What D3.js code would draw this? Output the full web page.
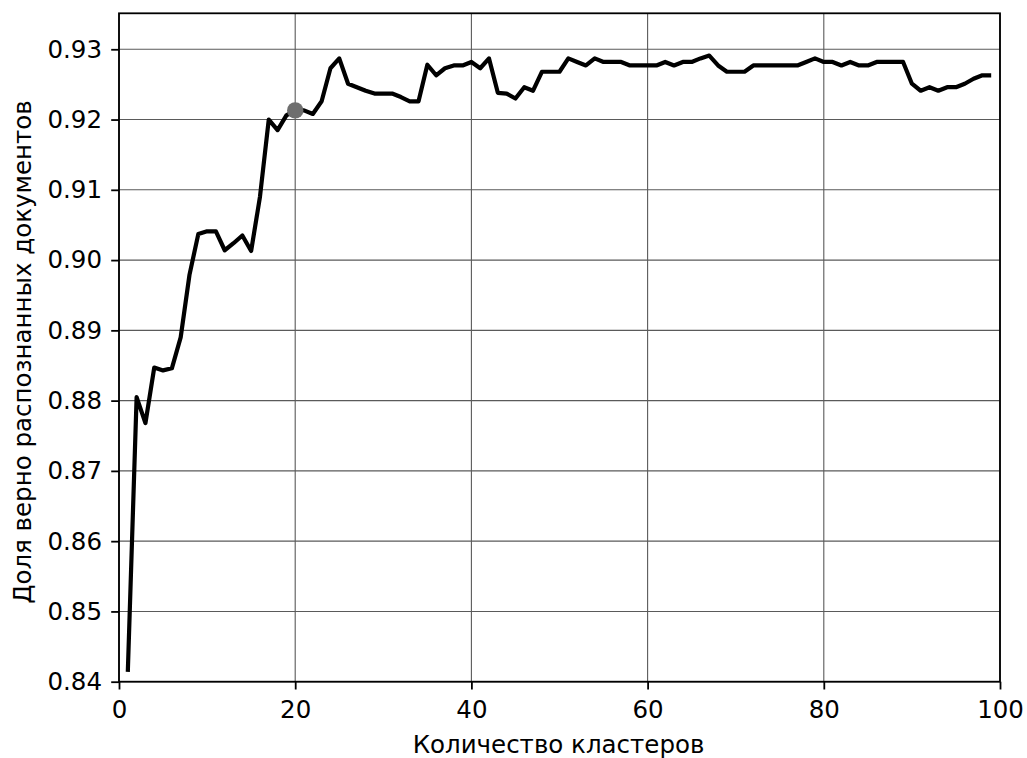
<!DOCTYPE html>
<html>
<head>
<meta charset="utf-8">
<script src="https://cdn.jsdelivr.net/npm/d3@7"></script>
<style>
  html, body { margin: 0; padding: 0; background: #fff; }
  svg text { font-family: "DejaVu Sans", sans-serif; fill: #000; }
</style>
</head>
<body>
<svg id="chart" width="1027" height="758"></svg>
<script>
const clusters = d3.range(1, 100);
const accuracy = [
  0.8414, 0.8805, 0.8768, 0.8847, 0.8843, 0.8846, 0.8890, 0.8979, 0.9037, 0.9041,
  0.9041, 0.9014, 0.9024, 0.9035, 0.9013, 0.9090, 0.9200, 0.9185, 0.9206, 0.9213,
  0.9213, 0.9208, 0.9226, 0.9273, 0.9287, 0.9251, 0.9246, 0.9241, 0.9237, 0.9237,
  0.9237, 0.9232, 0.9226, 0.9226, 0.9278, 0.9263, 0.9273, 0.9277, 0.9277, 0.9282,
  0.9273, 0.9287, 0.9238, 0.9237, 0.9230, 0.9246, 0.9241, 0.9268, 0.9268, 0.9268,
  0.9287, 0.9282, 0.9277, 0.9287, 0.9282, 0.9282, 0.9282, 0.9277, 0.9277, 0.9277,
  0.9277, 0.9282, 0.9277, 0.9282, 0.9282, 0.9287, 0.9291, 0.9277, 0.9268, 0.9268,
  0.9268, 0.9277, 0.9277, 0.9277, 0.9277, 0.9277, 0.9277, 0.9282, 0.9287, 0.9282,
  0.9282, 0.9277, 0.9282, 0.9277, 0.9277, 0.9282, 0.9282, 0.9282, 0.9282, 0.9251,
  0.9241, 0.9246, 0.9241, 0.9246, 0.9246, 0.9251, 0.9258, 0.9263, 0.9263
];
const highlightX = [20];
const highlightY = [0.9213];
const xTicks = [0, 20, 40, 60, 80, 100];
const yTicks = [0.84, 0.85, 0.86, 0.87, 0.88, 0.89, 0.90, 0.91, 0.92, 0.93];
const xLabel = "Количество кластеров";
const yLabel = "Доля верно распознанных документов";

const FS = 24.5;
const pLeft = 119, pRight = 1000, pTop = 13.3, pBottom = 681.7;
const svg = d3.select("#chart");
const x = d3.scaleLinear().domain([0, 100]).range([pLeft, pRight]);
const y = d3.scaleLinear().domain([0.84, 0.93512]).range([pBottom, pTop]);

// grid
const grid = svg.append("g");
grid.selectAll("line.gx").data(xTicks).join("line").attr("class", "gx")
  .attr("x1", d => x(d)).attr("x2", d => x(d))
  .attr("y1", pTop).attr("y2", pBottom)
  .attr("stroke", "#5a5a5a").attr("stroke-width", 1.1);
grid.selectAll("line.gy").data(yTicks).join("line").attr("class", "gy")
  .attr("x1", pLeft).attr("x2", pRight)
  .attr("y1", d => y(d)).attr("y2", d => y(d))
  .attr("stroke", "#5a5a5a").attr("stroke-width", 1.1);

// line
const pts = clusters.map((c, i) => [c, accuracy[i]]);
svg.append("defs").append("clipPath").attr("id", "clip")
  .append("rect").attr("x", pLeft).attr("y", pTop).attr("width", pRight - pLeft).attr("height", pBottom - pTop);
svg.append("path").datum(pts)
  .attr("clip-path", "url(#clip)")
  .attr("fill", "none").attr("stroke", "#000").attr("stroke-width", 4.2)
  .attr("stroke-linejoin", "round")
  .attr("d", d3.line().x(d => x(d[0])).y(d => y(d[1])));

// marker
svg.selectAll("circle.hl").data(highlightX).join("circle").attr("class", "hl")
  .attr("cx", d => x(d)).attr("cy", (d, i) => y(highlightY[i]))
  .attr("r", 8.2).attr("fill", "#6e6e6e");

// axes
const fmtY = d3.format(".2f");
const xAxis = d3.axisBottom(x).tickValues(xTicks).tickSize(7.8).tickPadding(7.8).tickFormat(d3.format("d"));
const yAxis = d3.axisLeft(y).tickValues(yTicks).tickSize(7.8).tickPadding(9.2).tickFormat(fmtY);
const gx = svg.append("g").attr("transform", `translate(0,${pBottom})`).call(xAxis);
const gy = svg.append("g").attr("transform", `translate(${pLeft},0)`).call(yAxis);
[gx, gy].forEach(g => {
  g.select(".domain").remove();
  g.selectAll(".tick line").attr("stroke", "#000").attr("stroke-width", 1.8);
  g.selectAll(".tick text").attr("font-size", FS).attr("font-family", "DejaVu Sans");
});
gx.selectAll(".tick text").attr("y", 36.6).attr("dy", 0);

// frame
svg.append("rect").attr("x", pLeft).attr("y", pTop).attr("width", pRight - pLeft).attr("height", pBottom - pTop)
  .attr("fill", "none").attr("stroke", "#000").attr("stroke-width", 1.8);

// labels
svg.append("text").attr("x", (pLeft + pRight) / 2 - 1).attr("y", 753)
  .attr("text-anchor", "middle").attr("font-size", FS).text(xLabel);
svg.append("text").attr("transform", `translate(31,352) rotate(-90)`)
  .attr("text-anchor", "middle").attr("font-size", FS).text(yLabel);
</script>
</body>
</html>
